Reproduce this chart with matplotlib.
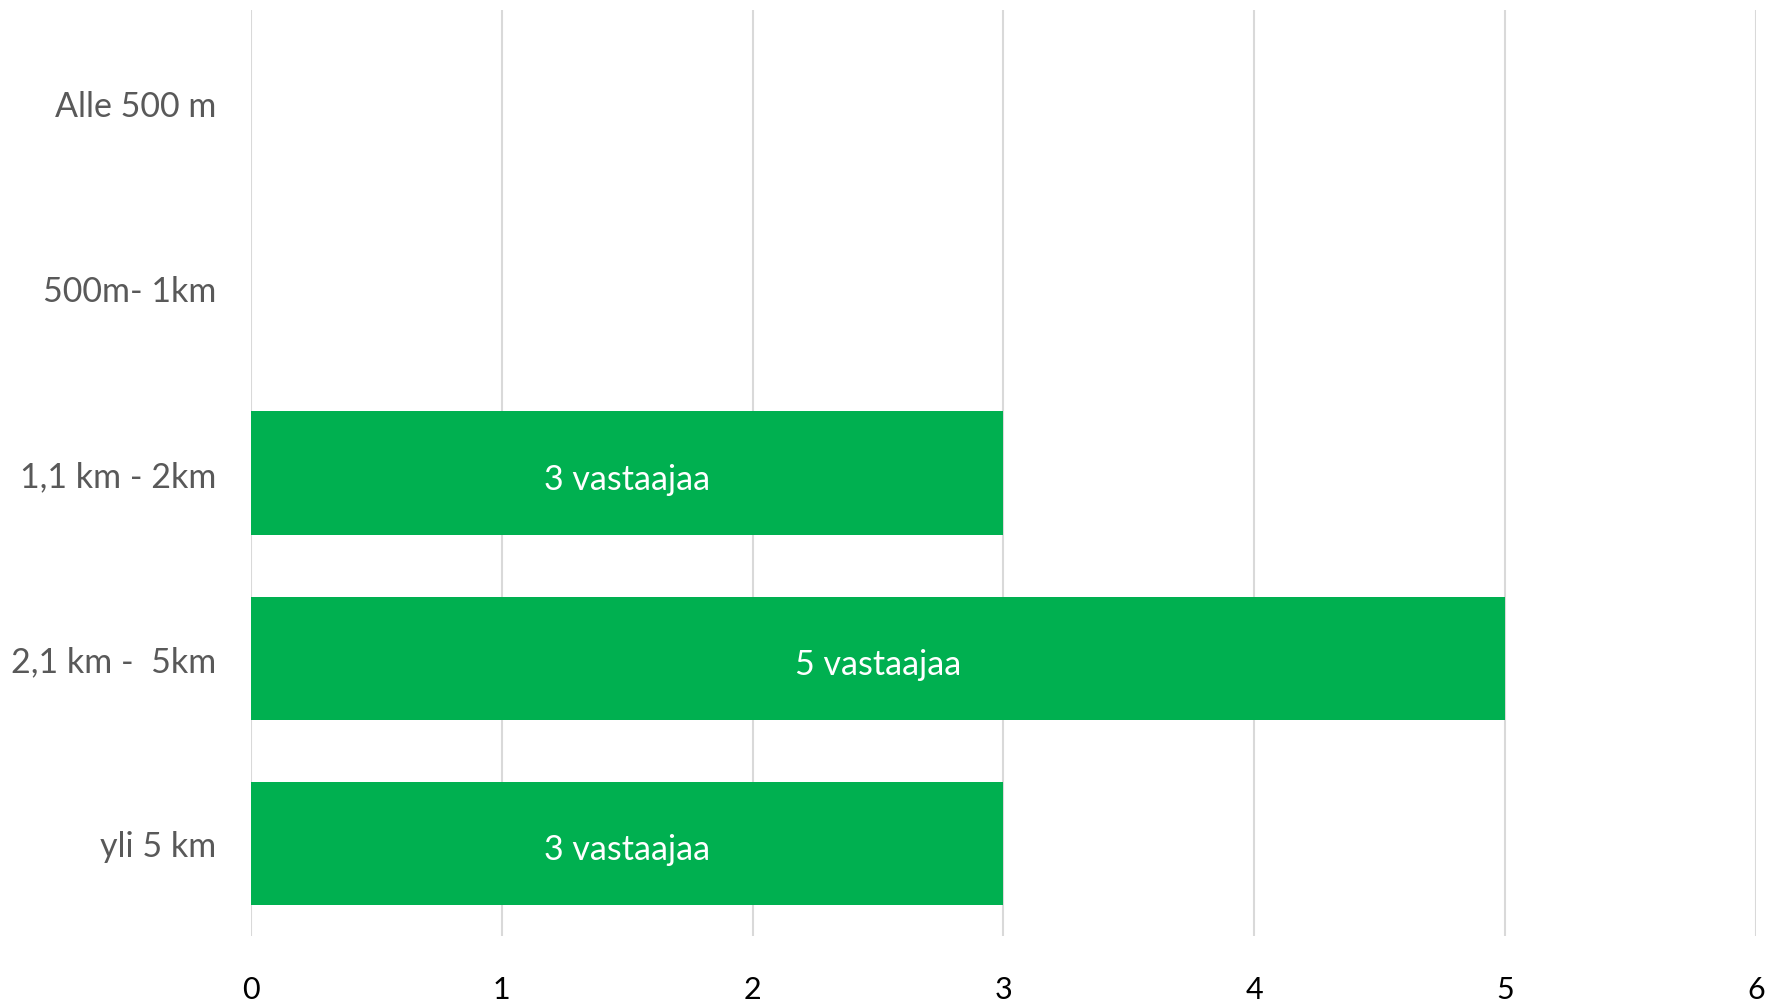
import matplotlib.pyplot as plt

plt.rcParams['font.family'] = ['Lato', 'DejaVu Sans']

# matka kotoa
matkat = ['Alle 500 m', '500m- 1km', '1,1 km - 2km', '2,1 km -  5km', 'yli 5 km']
vastaajat = [0, 0, 3, 5, 3]
x_ticks = [0, 1, 2, 3, 4, 5, 6]

fig = plt.figure(figsize=(17.71, 10.04), dpi=100)
ax = fig.add_axes([0.1417, 0.0667, 0.8497, 0.9223])

ypos = list(range(len(matkat)))
bars = ax.barh(ypos, vastaajat, height=0.665, color='#00B050', zorder=2)

labels = [f'{v} vastaajaa' if v > 0 else '' for v in vastaajat]
txts = ax.bar_label(bars, labels=labels, label_type='center', color='white', fontsize=24.5)
for t in txts:
    t.set_y(t.get_position()[1] - 4)

ax.set_xlim(0, 6)
ax.set_ylim(len(matkat) - 0.5, -0.5)
ax.set_xticks(x_ticks)
ax.set_yticks(ypos)
ax.set_yticklabels(matkat)

ax.grid(axis='x', color='#D9D9D9', linewidth=1.5, zorder=0)
ax.set_axisbelow(True)
for s in ax.spines.values():
    s.set_visible(False)

ax.tick_params(axis='x', length=0, pad=28, labelsize=22, labelcolor='black')
ax.tick_params(axis='y', length=0, pad=25, labelsize=24.5, labelcolor='#595959')

plt.savefig('out.png', dpi=100)
